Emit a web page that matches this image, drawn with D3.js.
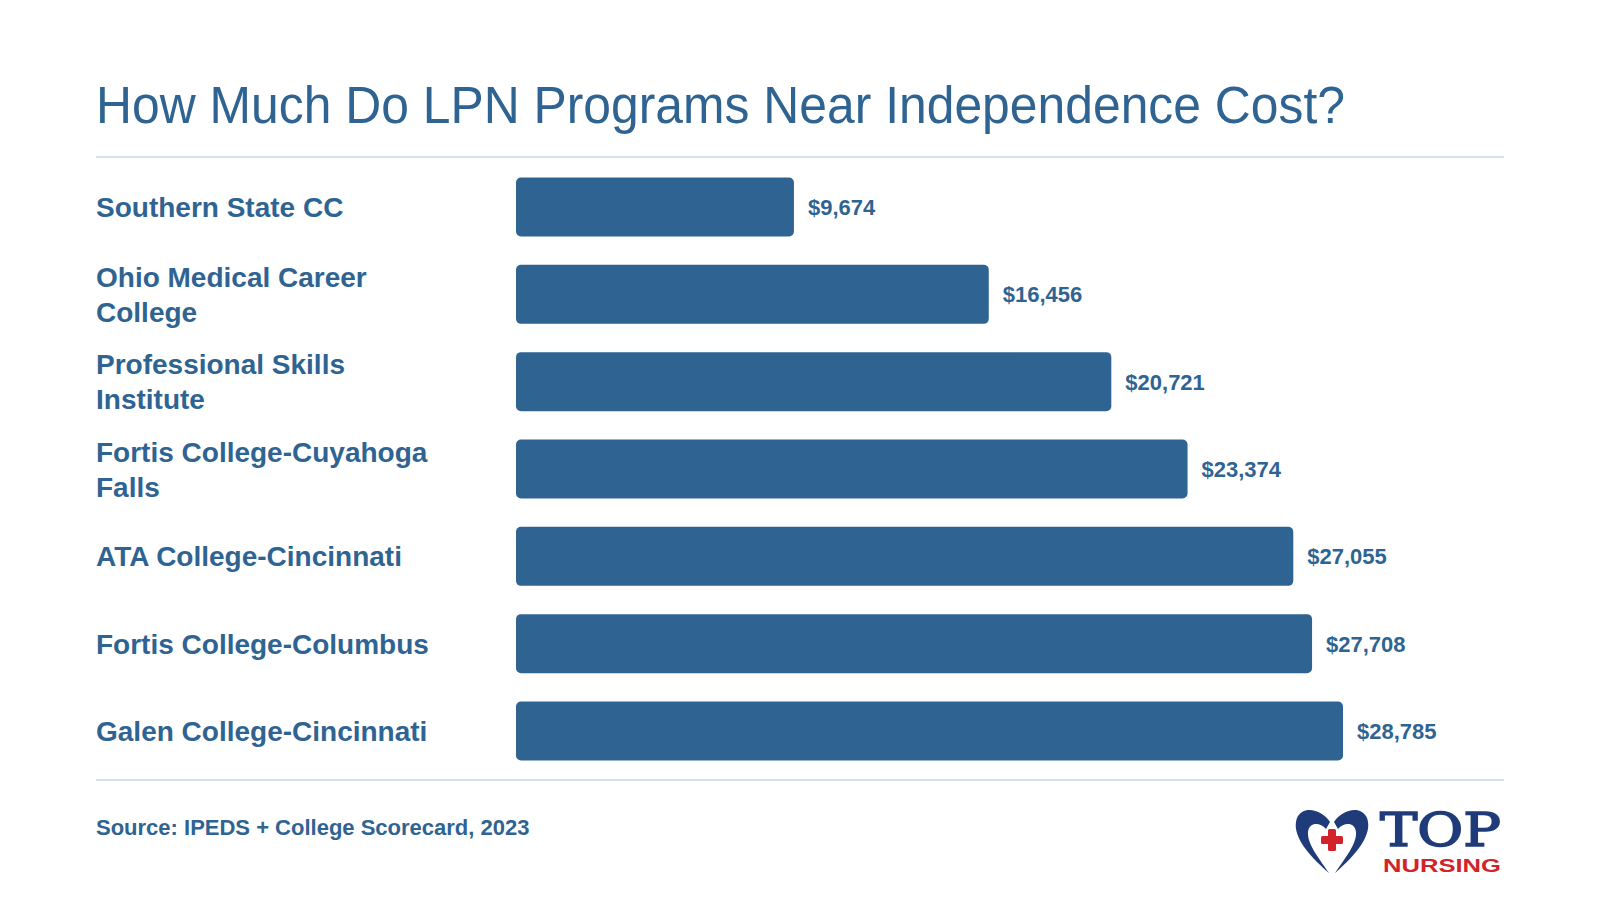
<!DOCTYPE html>
<html>
<head>
<meta charset="utf-8">
<script src="https://cdn.jsdelivr.net/npm/d3@7"></script>
<style>
  html, body { margin: 0; padding: 0; background: #fff; }
  svg { display: block; font-family: "Liberation Sans", Arial, Helvetica, sans-serif; }
</style>
</head>
<body>
<div id="chart"></div>
<script>
const width = 1600,
      height = 900;

// data
const schools = ["Southern State CC", "Ohio Medical Career College", "Professional Skills Institute",
  "Fortis College-Cuyahoga Falls", "ATA College-Cincinnati", "Fortis College-Columbus",
  "Galen College-Cincinnati"];
const costs = [9674, 16456, 20721, 23374, 27055, 27708, 28785];

const title = "How Much Do LPN Programs Near Independence Cost?";
const source = "Source: IPEDS + College Scorecard, 2023";

const blue = "#2f6492",
      navy = "#1f3b79",
      red = "#d2232a",
      rule = "#d7e1eb";

var svg = d3.select('#chart').append('svg')
  .attr('width', width)
  .attr('height', height);

svg.append("text")
  .attr("x", 96)
  .attr("y", 123)
  .attr("textLength", 1249)
  .attr("lengthAdjust", "spacingAndGlyphs")
  .style("font-size", "51px")
  .style("fill", blue)
  .text(title);

svg.append("line")
  .attr("x1", 96).attr("x2", 1504)
  .attr("y1", 157).attr("y2", 157)
  .style("stroke", rule).style("stroke-width", 2);

svg.append("line")
  .attr("x1", 96).attr("x2", 1504)
  .attr("y1", 780).attr("y2", 780)
  .style("stroke", rule).style("stroke-width", 2);

const x = d3.scaleLinear()
  .domain([0, d3.max(costs)])
  .range([516, 1343]);

const y = d3.scaleBand()
  .domain(schools)
  .range([158, 780])
  .paddingInner(0.324)
  .paddingOuter(0.223);

const rows = schools.map((s, i) => ({ name: s, value: costs[i] }));

svg.append("g").selectAll("rect").data(rows)
  .enter().append("rect")
  .attr("x", x(0))
  .attr("y", d => y(d.name))
  .attr("width", d => x(d.value) - x(0))
  .attr("height", y.bandwidth())
  .attr("rx", 5)
  .style("fill", blue);

svg.append("g").selectAll("text").data(rows)
  .enter().append("text")
  .attr("x", d => x(d.value) + 14)
  .attr("y", d => y(d.name) + y.bandwidth() / 2)
  .attr("dy", "0.36em")
  .style("font-size", "22px")
  .style("font-weight", "bold")
  .style("fill", blue)
  .text(d => "$" + d3.format(",")(d.value));

// category labels, wrapped to fit before the bars
const labels = svg.append("g").selectAll("text").data(rows)
  .enter().append("text")
  .attr("x", 96)
  .style("font-size", "28px")
  .style("font-weight", "bold")
  .style("fill", blue);

labels.each(function(d) {
  const el = d3.select(this);
  const words = d.name.split(" ");
  let lines = [], line = [];
  const probe = el.append("tspan");
  words.forEach(w => {
    line.push(w);
    probe.text(line.join(" "));
    if (probe.node().getComputedTextLength() > 345 && line.length > 1) {
      line.pop();
      lines.push(line.join(" "));
      line = [w];
    }
  });
  lines.push(line.join(" "));
  probe.remove();
  const lh = 35;
  const cy = y(d.name) + y.bandwidth() / 2;
  lines.forEach((t, i) => {
    el.append("tspan")
      .attr("x", 96)
      .attr("y", cy - (lines.length - 1) * lh / 2 + i * lh)
      .attr("dy", "0.36em")
      .text(t);
  });
});

svg.append("text")
  .attr("x", 96)
  .attr("y", 835)
  .style("font-size", "22px")
  .style("font-weight", "bold")
  .style("fill", blue)
  .text(source);

// logo
var logo = svg.append("g").attr("transform", "translate(1295,808)");

logo.append("path")
  .attr("d", "M35,14 C28,2 8,-4 2,10 C-4,26 12,46 34,65 C24,50 12,36 13,24 C14,14 25,14 31,21 Z")
  .style("fill", navy);
logo.append("path")
  .attr("d", "M39,14 C46,2 66,-4 72,10 C78,26 62,46 40,65 C50,50 62,36 61,24 C60,14 49,14 43,21 Z")
  .style("fill", navy);

logo.append("rect").attr("x", 26).attr("y", 28).attr("width", 22).attr("height", 8).attr("rx", 1.5).style("fill", red);
logo.append("rect").attr("x", 33).attr("y", 21).attr("width", 8).attr("height", 22).attr("rx", 1.5).style("fill", red);

svg.append("text")
  .attr("x", 1380)
  .attr("y", 846)
  .attr("textLength", 121)
  .attr("lengthAdjust", "spacingAndGlyphs")
  .style("font-family", "'DejaVu Serif', serif")
  .style("font-size", "46px")
  .style("fill", navy)
  .style("stroke", navy)
  .style("stroke-width", 1.6)
  .text("TOP");

svg.append("text")
  .attr("x", 1383)
  .attr("y", 872)
  .attr("textLength", 118)
  .attr("lengthAdjust", "spacingAndGlyphs")
  .style("font-size", "19px")
  .style("font-weight", "bold")
  .style("fill", red)
  .text("NURSING");
</script>
</body>
</html>
